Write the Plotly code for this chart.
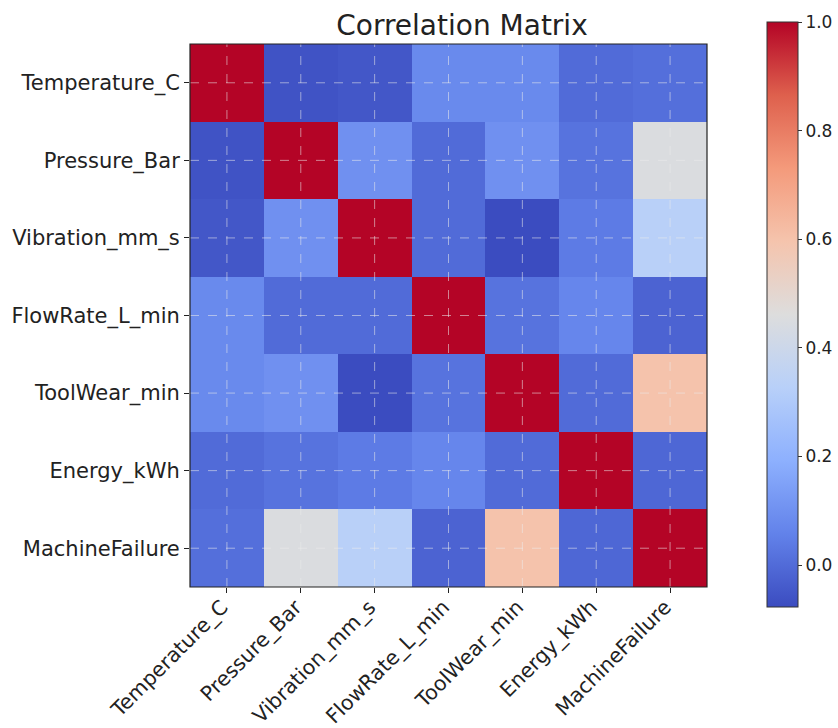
import plotly.graph_objects as go

labels = ["Temperature_C", "Pressure_Bar", "Vibration_mm_s", "FlowRate_L_min",
          "ToolWear_min", "Energy_kWh", "MachineFailure"]

row_temperature = [1.00, -0.06, -0.05, 0.08, 0.08, 0.00, 0.01]
row_pressure    = [-0.06, 1.00, 0.10, 0.00, 0.10, 0.02, 0.45]
row_vibration   = [-0.05, 0.10, 1.00, 0.00, -0.077, 0.04, 0.33]
row_flowrate    = [0.08, 0.00, 0.00, 1.00, 0.02, 0.07, -0.02]
row_toolwear    = [0.08, 0.10, -0.077, 0.02, 1.00, 0.00, 0.60]
row_energy      = [0.00, 0.02, 0.04, 0.07, 0.00, 1.00, -0.01]
row_failure     = [0.01, 0.45, 0.33, -0.02, 0.60, -0.01, 1.00]

z = [row_temperature, row_pressure, row_vibration, row_flowrate,
     row_toolwear, row_energy, row_failure]

coolwarm = [
    [0.0, "rgb(59,76,192)"],
    [0.125, "rgb(98,130,234)"],
    [0.25, "rgb(141,176,254)"],
    [0.375, "rgb(184,208,249)"],
    [0.5, "rgb(221,221,221)"],
    [0.625, "rgb(245,196,173)"],
    [0.75, "rgb(244,154,123)"],
    [0.875, "rgb(222,96,77)"],
    [1.0, "rgb(180,4,38)"],
]

idx = list(range(len(labels)))
zmin = min(min(r) for r in z)

fig = go.Figure(go.Heatmap(
    z=z, x=idx, y=idx,
    colorscale=coolwarm, zmin=zmin, zmax=1.0,
    xgap=0, ygap=0,
    colorbar=dict(
        x=(767 - 190) / 517, xanchor="left", xpad=0, ypad=0, thickness=31,
        len=585 / 543, lenmode="fraction", y=(587 - 314.5) / 543, yanchor="middle",
        outlinewidth=1, outlinecolor="#333",
        tickvals=[0.0, 0.2, 0.4, 0.6, 0.8, 1.0],
        ticktext=["0.0", "0.2", "0.4", "0.6", "0.8", "1.0"],
        ticks="outside", ticklen=4, tickcolor="#333",
        tickfont=dict(family="DejaVu Sans", size=17, color="#222"),
    ),
))

shapes = []
for i in idx:
    shapes.append(dict(type="line", xref="x", yref="paper", x0=i, x1=i, y0=0, y1=1,
                       line=dict(color="rgba(235,235,235,0.55)", width=1, dash="dash"), layer="above"))
    shapes.append(dict(type="line", xref="paper", yref="y", x0=0, x1=1, y0=i, y1=i,
                       line=dict(color="rgba(235,235,235,0.55)", width=1, dash="dash"), layer="above"))
shapes.append(dict(type="rect", xref="paper", yref="paper", x0=0, x1=1, y0=0, y1=1,
                   line=dict(color="#222", width=1.2), layer="above"))

fig.update_layout(
    width=838, height=728,
    margin=dict(l=190, r=131, t=44, b=141, autoexpand=False),
    paper_bgcolor="white", plot_bgcolor="white",
    title=dict(text="Correlation Matrix", x=462 / 838, xanchor="center",
               y=1 - 25 / 728, yanchor="middle",
               font=dict(family="DejaVu Sans", size=28, color="#222")),
    shapes=shapes,
    xaxis=dict(tickvals=idx, ticktext=labels, tickangle=-45, range=[-0.5, 6.5],
               automargin=False, ticklabelshift=-5, ticklabelstandoff=-6,
               showgrid=False, zeroline=False, ticks="outside", ticklen=5, tickcolor="#222",
               tickfont=dict(family="DejaVu Sans", size=20.5, color="#222")),
    yaxis=dict(tickvals=idx, ticktext=labels, range=[6.5, -0.5],
               automargin=False,
               showgrid=False, zeroline=False, ticks="outside", ticklen=5, tickcolor="#222",
               tickfont=dict(family="DejaVu Sans", size=21, color="#222")),
)

fig.write_html("out.html")
